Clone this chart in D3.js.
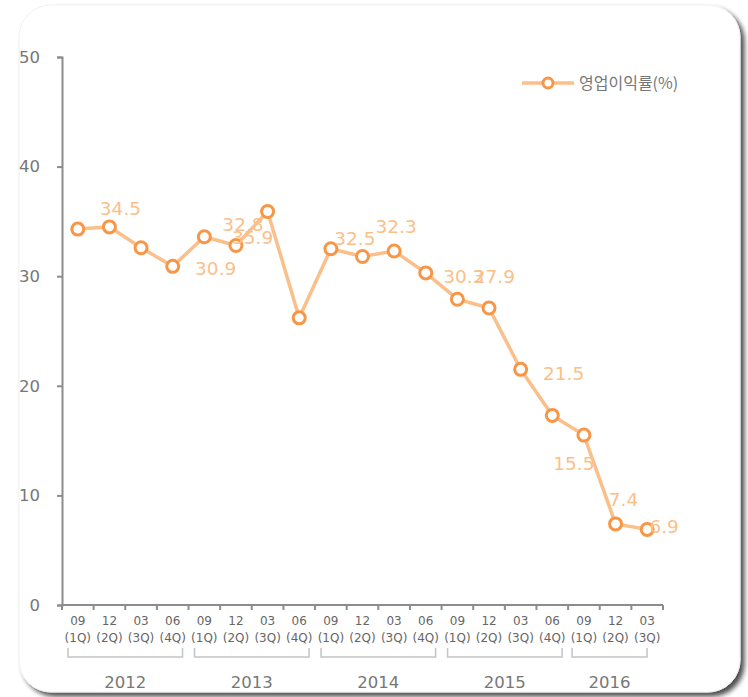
<!DOCTYPE html>
<html><head><meta charset="utf-8">
<script src="https://cdn.jsdelivr.net/npm/d3@7"></script>
<style>html,body{margin:0;padding:0;background:#fff;}svg{display:block;}</style>
</head><body>
<svg id="chart" width="748" height="697"></svg>
<script>
const months = ["09","12","03","06","09","12","03","06","09","12","03","06","09","12","03","06","09","12","03"];
const quarters = ["(1Q)","(2Q)","(3Q)","(4Q)","(1Q)","(2Q)","(3Q)","(4Q)","(1Q)","(2Q)","(3Q)","(4Q)","(1Q)","(2Q)","(3Q)","(4Q)","(1Q)","(2Q)","(3Q)"];
const years = ["2012","2013","2014","2015","2016"];
const yearStart = [0,4,8,12,16];
const yearEnd = [3,7,11,15,18];
const margin = [34.3,34.5,32.6,30.9,33.6,32.8,35.9,26.2,32.5,31.8,32.3,30.3,27.9,27.1,21.5,17.3,15.5,7.4,6.9];
const yTicks = [0,10,20,30,40,50];
const seriesName = "영업이익률(%)";
const labeledIdx = [1,3,5,6,8,10,11,12,14,16,17,18];
// label offsets (px) relative to the point, mimicking the original placement
const labelOffsets = {1:[11,-12],3:[43,9],5:[7,-15],6:[-15,32],8:[24,-4],10:[2,-18],11:[38,10],12:[37,-16],14:[43,11],16:[-10,35],17:[8,-18],18:[17,4]};

const svg = d3.select("#chart");
const defs = svg.append("defs");
const f = defs.append("filter").attr("id","sh").attr("x","-5%").attr("y","-5%").attr("width","110%").attr("height","110%");
f.append("feGaussianBlur").attr("in","SourceAlpha").attr("stdDeviation",2.5);
f.append("feOffset").attr("dx",4).attr("dy",4).attr("result","b");
f.append("feComponentTransfer").append("feFuncA").attr("type","linear").attr("slope",0.7);
const m = f.append("feMerge"); m.append("feMergeNode"); m.append("feMergeNode").attr("in","SourceGraphic");

svg.append("rect").attr("x",19).attr("y",5).attr("width",721).attr("height",687)
  .attr("rx",32).attr("ry",32).attr("fill","#fff").attr("stroke","#f1f1f1").attr("stroke-width",1)
  .attr("filter","url(#sh)");

const x0 = 62, x1 = 663, yTop = 57, yBot = 605;
const x = d3.scaleBand().domain(d3.range(months.length)).range([x0,x1]).padding(0);
const y = d3.scaleLinear().domain([0,50]).range([yBot,yTop]);
const axisColor = "#8c8c8c";
const font = "'DejaVu Sans', Verdana, sans-serif";

// Y axis
const yAxis = svg.append("g").attr("transform",`translate(${x0},0)`)
  .call(d3.axisLeft(y).tickValues(yTicks).tickSize(5).tickPadding(17));
yAxis.select(".domain").attr("stroke",axisColor).attr("stroke-width",2);
yAxis.selectAll(".tick line").attr("stroke",axisColor).attr("stroke-width",2);
yAxis.selectAll(".tick text").attr("fill","#777").attr("font-size",16.5).attr("font-family",font);

// X axis
const xAxisG = svg.append("g").attr("transform",`translate(0,${yBot})`);
xAxisG.append("line").attr("x1",x0).attr("x2",x1).attr("stroke",axisColor).attr("stroke-width",2);
xAxisG.selectAll("line.tk").data(d3.range(months.length+1)).join("line").attr("class","tk")
  .attr("x1",i=>x0+i*x.bandwidth()).attr("x2",i=>x0+i*x.bandwidth())
  .attr("y1",0).attr("y2",5).attr("stroke",axisColor).attr("stroke-width",2);
const cx = i => x(i)+x.bandwidth()/2;
xAxisG.selectAll("text.m").data(months).join("text").attr("class","m")
  .attr("x",(d,i)=>cx(i)).attr("y",20).attr("text-anchor","middle")
  .attr("font-size",12).attr("font-family",font).attr("fill","#666").text(d=>d);
xAxisG.selectAll("text.q").data(quarters).join("text").attr("class","q")
  .attr("x",(d,i)=>cx(i)).attr("y",37).attr("text-anchor","middle")
  .attr("font-size",12).attr("font-family",font).attr("fill","#666").text(d=>d);

// year brackets
const br = svg.append("g");
years.forEach((yr,k)=>{
  const last = k === years.length-1;
  const a = x(yearStart[k])+(last?4:6), b = x(yearEnd[k])+x.bandwidth()-(last?16:6);
  br.append("path").attr("d",`M${a},648V657H${b}V648`).attr("fill","none").attr("stroke","#c4c4c4").attr("stroke-width",1.5);
  br.append("text").attr("x",(a+b)/2).attr("y",688).attr("text-anchor","middle")
    .attr("font-size",16.5).attr("font-family",font).attr("fill","#777").text(yr);
});

// line
const lineColor = "#fbbf8a", markColor = "#f79646";
svg.append("path").datum(margin)
  .attr("d",d3.line().x((d,i)=>cx(i)).y(d=>y(d)))
  .attr("fill","none").attr("stroke",lineColor).attr("stroke-width",3.5);
svg.selectAll("circle.pt").data(margin).join("circle").attr("class","pt")
  .attr("cx",(d,i)=>cx(i)).attr("cy",d=>y(d)).attr("r",6)
  .attr("fill","#fff").attr("stroke",markColor).attr("stroke-width",3);

// labels
svg.selectAll("text.lbl").data(labeledIdx).join("text").attr("class","lbl")
  .attr("x",i=>cx(i)+labelOffsets[i][0]).attr("y",i=>y(margin[i])+labelOffsets[i][1])
  .attr("text-anchor","middle").attr("font-size",18.5).attr("font-family",font)
  .attr("fill",lineColor).text(i=>margin[i].toFixed(1));

// legend
const lg = svg.append("g").attr("transform","translate(522,83)");
lg.append("line").attr("x1",0).attr("x2",52).attr("stroke",lineColor).attr("stroke-width",3.5);
lg.append("circle").attr("cx",26).attr("r",5).attr("fill","#fff").attr("stroke",markColor).attr("stroke-width",3);
lg.append("text").attr("x",57).attr("y",6).attr("font-size",16).attr("font-family","'Noto Sans CJK KR', sans-serif")
  .attr("fill","#777").text(seriesName);
</script>
</body></html>
